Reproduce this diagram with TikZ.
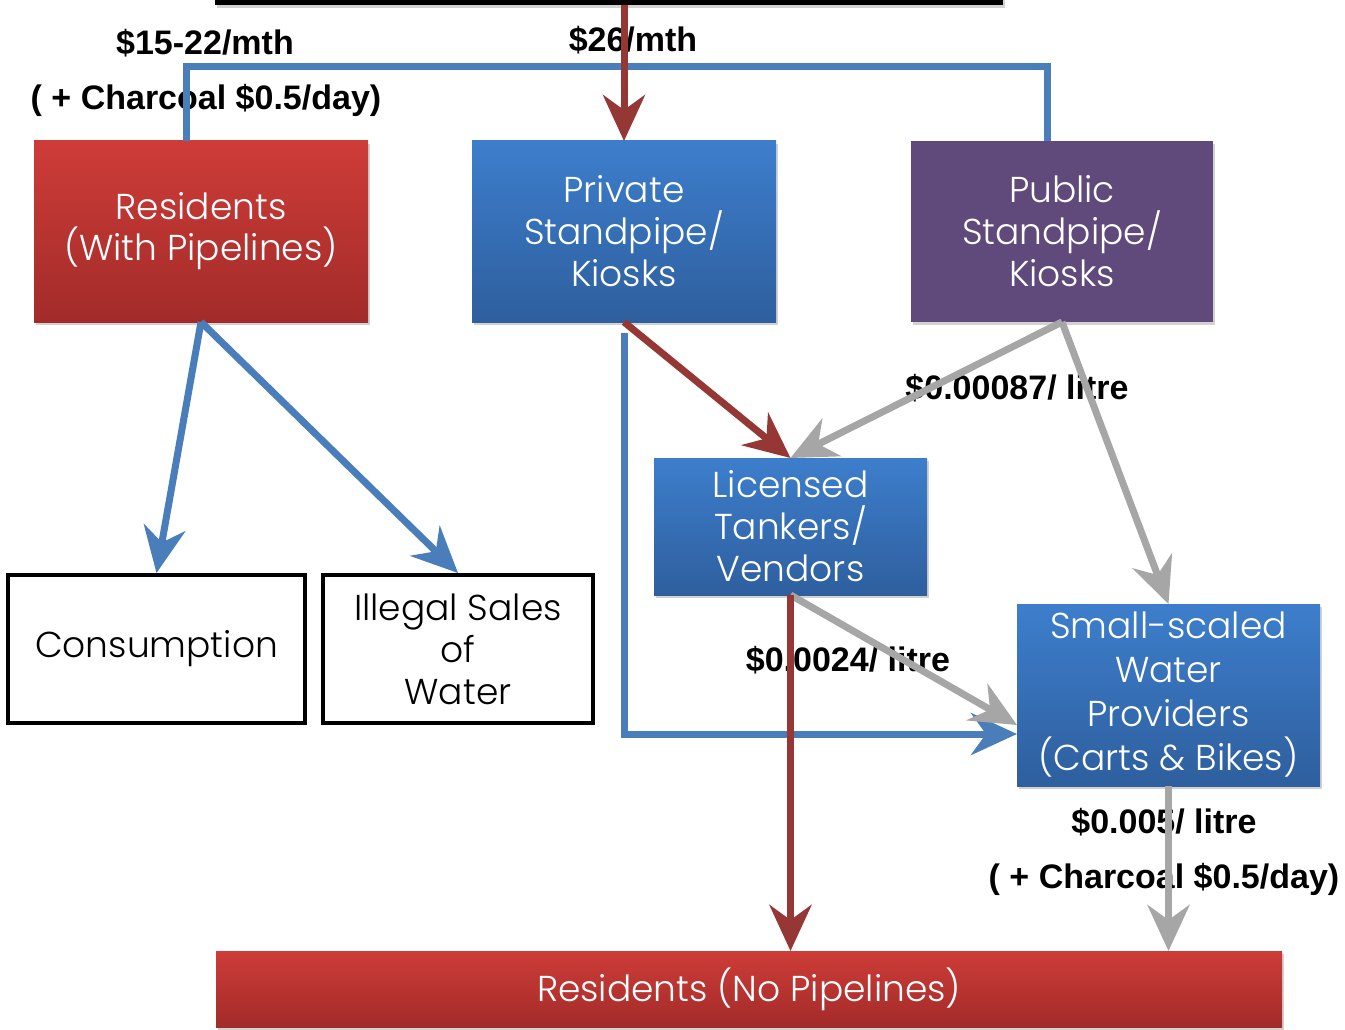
\documentclass[tikz,border=0pt]{standalone}
\usepackage{fontspec}
\setmainfont{Poppins}[UprightFont={* Light}]
\newfontfamily\lblfont{Liberation Sans}
\usetikzlibrary{arrows.meta,shadows,calc}
\definecolor{redtop}{HTML}{CE3C38}
\definecolor{redbot}{HTML}{A22B29}
\definecolor{bluetop}{HTML}{3D7ECC}
\definecolor{bluebot}{HTML}{2E5F9E}
\definecolor{purplebox}{HTML}{604A7B}
\definecolor{arrred}{HTML}{953735}
\definecolor{arrblue}{HTML}{4A7EBB}
\definecolor{arrgray}{HTML}{A6A6A6}
\begin{document}
\begin{tikzpicture}[x=1pt,y=-1pt,
  box/.style={rectangle, inner sep=0pt, outer sep=0pt, align=center, text=white,
    font=\fontsize{36}{42}\selectfont,
    drop shadow={opacity=0.35, shadow xshift=2pt, shadow yshift=-3pt}},
  redbox/.style={box, top color=redtop, bottom color=redbot},
  bluebox/.style={box, top color=bluetop, bottom color=bluebot},
  purplebox/.style={box, fill=purplebox},
  whitebox/.style={rectangle, inner sep=0pt, outer sep=2pt, align=center, text=black,
    draw=black, line width=4pt, fill=white, font=\fontsize{36}{42}\selectfont},
  lbl/.style={inner sep=0pt, font=\lblfont\bfseries\fontsize{34}{38}\selectfont, text=black},
  tipc/.style={-{Stealth[length=46pt,width=42pt,inset=15pt]}},
  redarr/.style={draw=arrred, line width=7pt},
  bluearr/.style={draw=arrblue, line width=7pt},
  grayarr/.style={draw=arrgray, line width=7pt},
]
\useasboundingbox (0,0) rectangle (1345,1030);
\fill[white] (0,0) rectangle (1345,1030);

% nodes
\node[fill=black, minimum width=788pt, minimum height=20pt, inner sep=0pt, outer sep=0pt,
  drop shadow={opacity=0.35, shadow xshift=2pt, shadow yshift=-3pt}] (bar) at (609,-5) {};
\node[redbox, minimum width=334pt, minimum height=181pt] (res) at (201,231.5) {\raisebox{-7pt}{\parbox{334pt}{\centering Residents\\[-1pt](With Pipelines)}}};
\node[bluebox, minimum width=304pt, minimum height=181pt] (priv) at (624,231.5) {Private\\Standpipe/\\Kiosks};
\node[purplebox, minimum width=302pt, minimum height=181pt] (pub) at (1062,231.5) {Public\\Standpipe/\\Kiosks};
\node[bluebox, minimum width=273pt, minimum height=137pt] (lic) at (790.5,526.5) {Licensed\\Tankers/\\Vendors};
\node[bluebox, minimum width=303pt, minimum height=182pt, font=\fontsize{36}{44}\selectfont] (small) at (1168.5,695) {\raisebox{-2pt}{\parbox{303pt}{\centering Small-scaled\\Water\\Providers\\(Carts \& Bikes)}}};
\node[whitebox, minimum width=297pt, minimum height=148pt] (cons) at (156.5,649) {Consumption};
\node[whitebox, minimum width=270pt, minimum height=148pt] (ill) at (458,649) {Illegal Sales\\of\\Water};
\node[redbox, minimum width=1066pt, minimum height=76pt] (nopipe) at (749,989) {Residents (No Pipelines)};

% labels
\node[lbl] (l1) at (205,43) {\$15-22/mth};
\node[lbl] (l2) at (206,100) {( + Charcoal \$0.5/day)};
\node[lbl] (l3) at (633,40) {\$26/mth};
\node[lbl] (l4) at (1017,388) {\$0.00087/ litre};
\node[lbl] (l5) at (848,660) {\$0.0024/ litre};
\node[lbl] (l6) at (1164,822) {\$0.005/ litre};
\node[lbl] (l7) at (1164,879) {( + Charcoal \$0.5/day)};

% connectors
\coordinate (topy) at (0,67);
\draw[bluearr, line join=miter]
  ([xshift=-15pt]res.north) -- ([xshift=-15pt]res.north |- topy)
  -- ([xshift=-15pt]pub.north |- topy) -- ([xshift=-15pt]pub.north);
\draw[redarr, tipc] (priv.north |- bar.south) -- (priv.north);
\draw[bluearr, tipc] (res.south) -- (cons.north);
\draw[bluearr, tipc] (res.south) -- (ill.north);
\draw[bluearr, tipc, line join=miter] ([yshift=-11pt]priv.south) |- ([yshift=-39pt]small.west);
\draw[redarr, tipc] (priv.south) -- (lic.north);
\draw[grayarr, tipc] (pub.south) -- (lic.north);
\draw[grayarr, tipc] (pub.south) -- (small.north);
\draw[grayarr, tipc] (lic.south) -- ([yshift=-30pt]small.west);
\draw[redarr, tipc] (lic.south) -- (lic.south |- nopipe.north);
\draw[grayarr, tipc] (small.south) -- (small.south |- nopipe.north);
\end{tikzpicture}
\end{document}
